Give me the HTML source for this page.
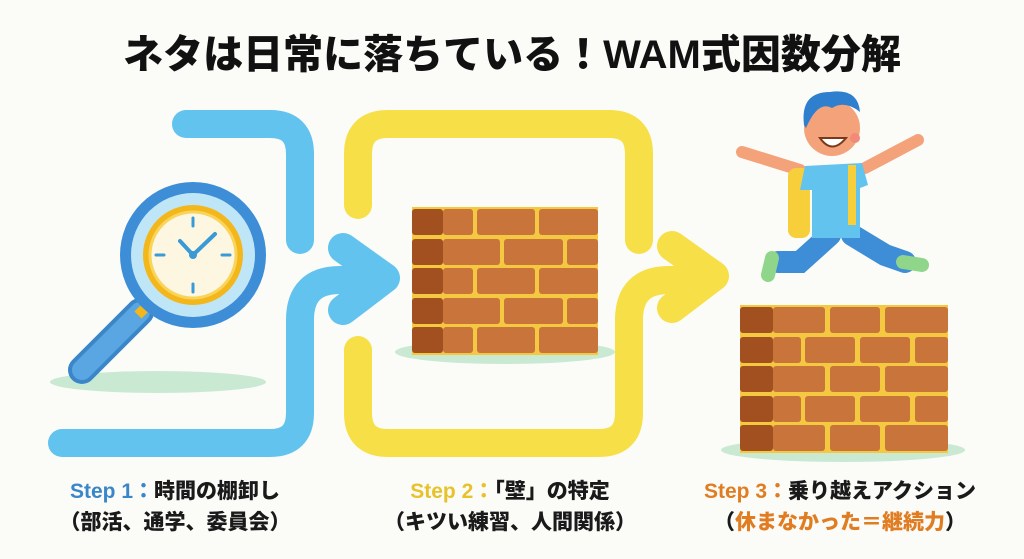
<!DOCTYPE html>
<html><head><meta charset="utf-8"><style>
html,body{margin:0;padding:0;background:#fbfbf8;}
body{width:1024px;height:559px;overflow:hidden;position:relative;font-family:"Liberation Sans","Noto Sans CJK JP",sans-serif;}
.t{position:absolute;left:0;width:1024px;top:22px;text-align:center;font-size:40px;font-weight:900;color:#111;letter-spacing:0px;}
.c{position:absolute;font-size:21px;font-weight:900;color:#1a1a1a;text-align:center;line-height:31px;white-space:nowrap;}
</style></head><body>
<svg width="1024" height="559" style="position:absolute;left:0;top:0">
<g fill="none" stroke-linecap="round" stroke-linejoin="round" stroke-width="28">
<path d="M186 124 H270 Q300 124 300 154 V240" stroke="#62c3ef"/>
<path d="M62 443 H270 Q300 443 300 413 V320 Q300 280 340 280 H360" stroke="#62c3ef"/>
<path d="M358 205 V154 Q358 124 388 124 H609 Q639 124 639 154 V240" stroke="#f7df48"/>
<path d="M358 350 V413 Q358 443 388 443 H599 Q629 443 629 413 V320 Q629 280 669 280 H690" stroke="#f7df48"/>
<path d="M343 248 L385 278 L343 310" stroke="#62c3ef" stroke-width="30"/>
<path d="M672 246 L714 276 L672 308" stroke="#f7df48" stroke-width="30"/>
</g>
<ellipse cx="158" cy="382" rx="108" ry="11" fill="#c9e9d3"/>
<line x1="140" y1="312" x2="82" y2="370" stroke="#3a86c8" stroke-width="28" stroke-linecap="round"/>
<line x1="140" y1="312" x2="82" y2="370" stroke="#5aa6e2" stroke-width="20" stroke-linecap="round"/>
<line x1="148" y1="305" x2="138" y2="315" stroke="#f3b71c" stroke-width="10"/>
<circle cx="193" cy="255" r="73" fill="#3d8ed6"/>
<circle cx="193" cy="255" r="62" fill="#bfe6f7"/>
<circle cx="193" cy="255" r="50" fill="#f3b71c"/>
<circle cx="193" cy="255" r="43" fill="#fdf6e0" stroke="#f8d55a" stroke-width="3"/>
<g stroke="#3a9ad6" stroke-width="3" stroke-linecap="round">
<line x1="193" y1="218" x2="193" y2="226"/><line x1="193" y1="284" x2="193" y2="292"/>
<line x1="156" y1="255" x2="164" y2="255"/><line x1="222" y1="255" x2="230" y2="255"/>
<line x1="180" y1="241" x2="193" y2="255" stroke-width="4"/>
<line x1="193" y1="255" x2="215" y2="234" stroke-width="4"/>
</g>
<circle cx="193" cy="255" r="4" fill="#3a9ad6"/>
<ellipse cx="505" cy="352" rx="110" ry="12" fill="#c9e9d3"/>
<rect x="412" y="207" width="186" height="148" fill="#f5c842"/>
<g fill="#c9743a">
<rect x="443" y="209" width="30" height="26" rx="3"/><rect x="477" y="209" width="58" height="26" rx="3"/><rect x="539" y="209" width="59" height="26" rx="3"/>
<rect x="443" y="239" width="57" height="26" rx="3"/><rect x="504" y="239" width="59" height="26" rx="3"/><rect x="567" y="239" width="31" height="26" rx="3"/>
<rect x="443" y="268" width="30" height="26" rx="3"/><rect x="477" y="268" width="58" height="26" rx="3"/><rect x="539" y="268" width="59" height="26" rx="3"/>
<rect x="443" y="298" width="57" height="26" rx="3"/><rect x="504" y="298" width="59" height="26" rx="3"/><rect x="567" y="298" width="31" height="26" rx="3"/>
<rect x="443" y="327" width="30" height="26" rx="3"/><rect x="477" y="327" width="58" height="26" rx="3"/><rect x="539" y="327" width="59" height="26" rx="3"/>
</g>
<g fill="#a2501f">
<rect x="412" y="209" width="31" height="26" rx="3"/><rect x="412" y="239" width="31" height="26" rx="3"/><rect x="412" y="268" width="31" height="26" rx="3"/><rect x="412" y="298" width="31" height="26" rx="3"/><rect x="412" y="327" width="31" height="26" rx="3"/>
</g>
<ellipse cx="843" cy="450" rx="122" ry="12" fill="#c9e9d3"/>
<rect x="740" y="305" width="208" height="148" fill="#f5c842"/>
<g fill="#c9743a">
<rect x="773" y="307" width="52" height="26" rx="3"/><rect x="830" y="307" width="50" height="26" rx="3"/><rect x="885" y="307" width="63" height="26" rx="3"/>
<rect x="773" y="337" width="28" height="26" rx="3"/><rect x="805" y="337" width="50" height="26" rx="3"/><rect x="860" y="337" width="50" height="26" rx="3"/><rect x="915" y="337" width="33" height="26" rx="3"/>
<rect x="773" y="366" width="52" height="26" rx="3"/><rect x="830" y="366" width="50" height="26" rx="3"/><rect x="885" y="366" width="63" height="26" rx="3"/>
<rect x="773" y="396" width="28" height="26" rx="3"/><rect x="805" y="396" width="50" height="26" rx="3"/><rect x="860" y="396" width="50" height="26" rx="3"/><rect x="915" y="396" width="33" height="26" rx="3"/>
<rect x="773" y="425" width="52" height="26" rx="3"/><rect x="830" y="425" width="50" height="26" rx="3"/><rect x="885" y="425" width="63" height="26" rx="3"/>
</g>
<g fill="#a2501f">
<rect x="740" y="307" width="33" height="26" rx="3"/><rect x="740" y="337" width="33" height="26" rx="3"/><rect x="740" y="366" width="33" height="26" rx="3"/><rect x="740" y="396" width="33" height="26" rx="3"/><rect x="740" y="425" width="33" height="26" rx="3"/>
</g>
<g stroke-linecap="round" fill="none">
<path d="M800 170 L742 152" stroke="#f4a27a" stroke-width="12"/>
<path d="M865 168 L918 140" stroke="#f4a27a" stroke-width="12"/>
<path d="M830 235 L800 262 L778 262" stroke="#3d8ed6" stroke-width="22"/>
<path d="M852 235 L885 255 L905 262" stroke="#3d8ed6" stroke-width="22"/>
<path d="M772 258 L768 275" stroke="#8fd58a" stroke-width="14"/>
<path d="M903 262 L922 265" stroke="#8fd58a" stroke-width="14"/>
</g>
<rect x="788" y="168" width="22" height="70" rx="8" fill="#f7cf3a"/>
<path d="M805 166 L862 163 L868 185 L860 188 L860 238 L812 238 L812 190 L800 190 Z" fill="#62c3ef"/>
<rect x="848" y="165" width="8" height="60" fill="#f7cf3a"/>
<circle cx="832" cy="128" r="28" fill="#f4a27a"/>
<path d="M804 125 Q800 92 830 92 Q858 88 860 112 Q845 100 832 108 Q818 100 806 128 Z" fill="#2f7fcf"/>
<path d="M820 138 Q832 155 846 138 Z" fill="#fff" stroke="#7a3a1a" stroke-width="2"/>
<circle cx="855" cy="138" r="5" fill="#f28a7a"/>
</svg>
<div class="t">ネタは日常に落ちている！WAM式因数分解</div>
<div class="c" style="left:30px;width:290px;top:476px;"><span style="color:#3a86c8">Step 1：</span>時間の棚卸し<br>（部活、通学、委員会）</div>
<div class="c" style="left:360px;width:300px;top:476px;"><span style="color:#e8c22a">Step 2：</span>「壁」の特定<br>（キツい練習、人間関係）</div>
<div class="c" style="left:680px;width:320px;top:476px;"><span style="color:#e07d22">Step 3：</span>乗り越えアクション<br>（<span style="color:#e07d22">休まなかった＝継続力</span>）</div>
</body></html>
